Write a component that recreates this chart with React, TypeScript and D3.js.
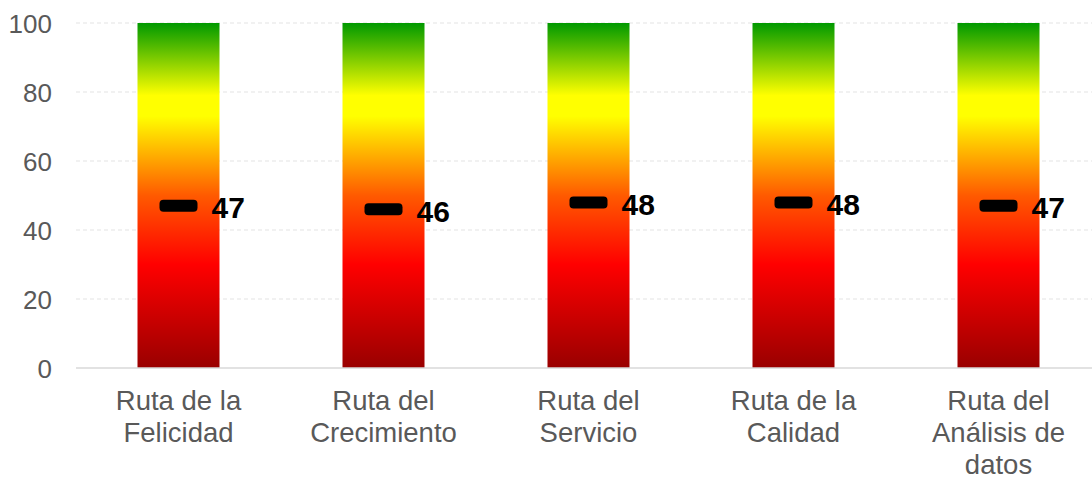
import React, { useEffect, useRef } from "react";
import * as d3 from "d3";

const categories = [
  "Ruta de la Felicidad",
  "Ruta del Crecimiento",
  "Ruta del Servicio",
  "Ruta de la Calidad",
  "Ruta del Análisis de datos",
];
const values = [47, 46, 48, 48, 47];
const yTicks = [0, 20, 40, 60, 80, 100];
const barMax = 100;

const W = 1092;
const H = 480;
const FONT = "'Liberation Sans', Arial, sans-serif";

export default function App() {
  const ref = useRef<SVGSVGElement | null>(null);

  useEffect(() => {
    const svg = d3.select(ref.current);
    svg.selectAll("*").remove();

    const left = 76, right = 1101, top = 23, bottom = 368;
    const x = d3.scaleBand<string>().domain(categories).range([left, right]).paddingInner(0.6).paddingOuter(0.3);
    const y = d3.scaleLinear().domain([0, 100]).range([bottom, top]);

    const defs = svg.append("defs");
    const grad = defs.append("linearGradient").attr("id", "g1")
      .attr("gradientUnits", "userSpaceOnUse")
      .attr("x1", 0).attr("x2", 0).attr("y1", y(100)).attr("y2", y(0));
    const stops: [number, string][] = [
      [0, "#009900"],
      [0.21, "#ffff00"],
      [0.27, "#ffff00"],
      [0.5, "#ff5a00"],
      [0.7, "#ff0000"],
      [1, "#990000"],
    ];
    stops.forEach(([o, c]) => grad.append("stop").attr("offset", o).attr("stop-color", c));

    // grid
    svg.append("g").selectAll("line").data(yTicks.filter((t) => t > 0)).join("line")
      .attr("x1", left).attr("x2", W)
      .attr("y1", (d) => y(d)).attr("y2", (d) => y(d))
      .attr("stroke", "#e3e3e3").attr("stroke-width", 1).attr("stroke-dasharray", "4,3");

    // y tick labels
    svg.append("g").selectAll("text").data(yTicks).join("text")
      .attr("x", 52).attr("y", (d) => y(d) + 1)
      .attr("text-anchor", "end").attr("dominant-baseline", "central")
      .attr("font-family", FONT).attr("font-size", 26)
      .attr("fill", "#595959").text((d) => d);

    // bars
    svg.append("g").selectAll("rect").data(categories).join("rect")
      .attr("x", (d) => x(d)!).attr("width", x.bandwidth())
      .attr("y", y(barMax)).attr("height", y(0) - y(barMax))
      .attr("fill", "url(#g1)");

    // axis line
    svg.append("line").attr("x1", left).attr("x2", W).attr("y1", y(0)).attr("y2", y(0))
      .attr("stroke", "#d9d9d9").attr("stroke-width", 1.5);

    // markers
    const cx = (i: number) => x(categories[i])! + x.bandwidth() / 2;
    svg.append("g").selectAll("rect").data(values).join("rect")
      .attr("x", (_, i) => cx(i) - 19).attr("width", 38)
      .attr("y", (d) => y(d) - 6).attr("height", 12)
      .attr("rx", 4).attr("fill", "#000");

    svg.append("g").selectAll("text").data(values).join("text")
      .attr("x", (_, i) => cx(i) + 33).attr("y", (d) => y(d) + 2)
      .attr("dominant-baseline", "central")
      .attr("font-family", FONT).attr("font-size", 30)
      .attr("font-weight", "bold").attr("fill", "#000").text((d) => d);

    // category labels with wrapping
    const canvas = document.createElement("canvas");
    const ctx = canvas.getContext("2d")!;
    ctx.font = "27.5px 'Liberation Sans', Arial, sans-serif";
    const wrap = (s: string, maxW: number) => {
      const words = s.split(" ");
      const lines: string[] = [];
      let cur = "";
      for (const w of words) {
        const t = cur ? cur + " " + w : w;
        if (cur && ctx.measureText(t).width > maxW) {
          lines.push(cur);
          cur = w;
        } else cur = t;
      }
      if (cur) lines.push(cur);
      return lines;
    };
    const lab = svg.append("g");
    categories.forEach((c) => {
      const lines = wrap(c, 165);
      const t = lab.append("text")
        .attr("text-anchor", "middle")
        .attr("font-family", FONT).attr("font-size", 27.5)
        .attr("fill", "#595959");
      lines.forEach((l, j) => {
        t.append("tspan").attr("x", x(c)! + x.bandwidth() / 2).attr("y", 410 + j * 32).text(l);
      });
    });
  }, []);

  return (
    <svg ref={ref} width={W} height={H} style={{ position: "absolute", left: 0, top: 0, background: "#fff" }} />
  );
}
